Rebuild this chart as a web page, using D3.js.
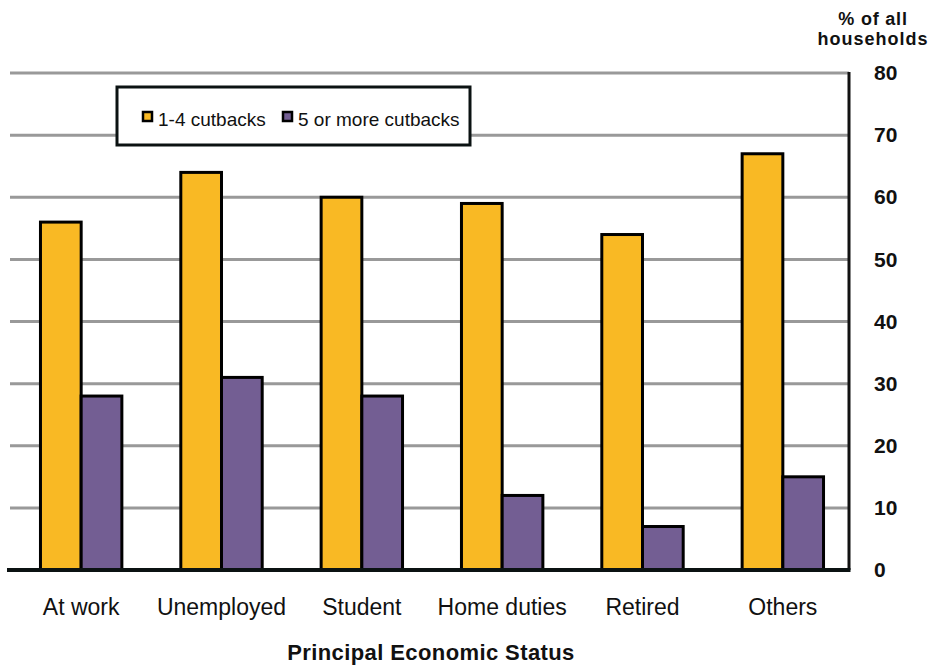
<!DOCTYPE html>
<html>
<head>
<meta charset="utf-8">
<script src="https://cdn.jsdelivr.net/npm/d3@7"></script>
<style>
  body { margin: 0; background: #fff; }
  svg { display: block; font-family: 'Liberation Sans', Arial, sans-serif; }
</style>
</head>
<body>
<svg id="chart" width="934" height="666"></svg>
<script>
// Data
const categories = ['At work', 'Unemployed', 'Student', 'Home duties', 'Retired', 'Others'];
const seriesNames = ['1-4 cutbacks', '5 or more cutbacks'];
const cutbacks1to4 = [56, 64, 60, 59, 54, 67];
const cutbacks5plus = [28, 31, 28, 12, 7, 15];
const yTicks = [0, 10, 20, 30, 40, 50, 60, 70, 80];
const colors = ['#F9B924', '#735E93'];

const svg = d3.select('#chart');
const margin = { top: 73, right: 82, bottom: 96, left: 11 };
const width = 934, height = 666;

// Scales
const x0 = d3.scaleBand()
  .domain(categories)
  .range([margin.left, width - margin.right + 1])
  .paddingInner(0.42)
  .paddingOuter(0.21);

const x1 = d3.scaleBand()
  .domain(seriesNames)
  .range([0, x0.bandwidth()]);

const y = d3.scaleLinear()
  .domain([0, 80])
  .range([height - margin.bottom, margin.top]);

const axisX = width - margin.right - 3;

// Gridlines
svg.append('g')
  .selectAll('line')
  .data(yTicks.filter(d => d > 0))
  .join('line')
  .attr('x1', margin.left - 1)
  .attr('x2', axisX)
  .attr('y1', d => y(d))
  .attr('y2', d => y(d))
  .attr('stroke', '#999')
  .attr('stroke-width', 3);

// Bars
const rows = categories.map((c, i) => ({ cat: c, values: [cutbacks1to4[i], cutbacks5plus[i]] }));

svg.append('g')
  .selectAll('g')
  .data(rows)
  .join('g')
  .attr('transform', d => `translate(${x0(d.cat)},0)`)
  .selectAll('rect')
  .data(d => d.values.map((v, j) => ({ key: seriesNames[j], value: v, j: j })))
  .join('rect')
  .attr('x', d => x1(d.key))
  .attr('width', x1.bandwidth())
  .attr('y', d => y(d.value))
  .attr('height', d => y(0) - y(d.value))
  .attr('fill', d => colors[d.j])
  .attr('stroke', '#000')
  .attr('stroke-width', 3);

// Right axis line and baseline
svg.append('line')
  .attr('x1', axisX).attr('x2', axisX)
  .attr('y1', y(80) - 1).attr('y2', y(0))
  .attr('stroke', '#111').attr('stroke-width', 3);

svg.append('line')
  .attr('x1', 7).attr('x2', axisX + 1.5)
  .attr('y1', y(0)).attr('y2', y(0))
  .attr('stroke', '#0b1212').attr('stroke-width', 4);

// Right axis tick labels
const yAxis = svg.append('g')
  .attr('transform', `translate(${axisX + 25},0)`)
  .call(d3.axisRight(y).tickValues(yTicks).tickSize(0).tickPadding(0));
yAxis.select('.domain').remove();
yAxis.selectAll('text')
  .attr('font-size', 21)
  .attr('font-weight', 'bold')
  .attr('fill', '#111')
  .attr('font-family', "'Liberation Sans', Arial, sans-serif");

// Axis unit label
svg.append('text')
  .attr('x', 873).attr('y', 25)
  .attr('text-anchor', 'middle')
  .attr('font-size', 18).attr('font-weight', 'bold')
  .attr('letter-spacing', 0.8)
  .attr('fill', '#111')
  .text('% of all');
svg.append('text')
  .attr('x', 873).attr('y', 45)
  .attr('text-anchor', 'middle')
  .attr('font-size', 18).attr('font-weight', 'bold')
  .attr('letter-spacing', 1)
  .attr('fill', '#111')
  .text('households');

// Category labels
svg.append('g')
  .selectAll('text')
  .data(categories)
  .join('text')
  .attr('x', d => x0(d) + x0.bandwidth() / 2)
  .attr('y', 615)
  .attr('text-anchor', 'middle')
  .attr('font-size', 23)
  .attr('fill', '#111')
  .text(d => d);

// X axis title
svg.append('text')
  .attr('x', 431).attr('y', 660)
  .attr('text-anchor', 'middle')
  .attr('font-size', 22).attr('font-weight', 'bold')
  .attr('letter-spacing', 0.4)
  .attr('fill', '#111')
  .text('Principal Economic Status');

// Legend
const legend = svg.append('g');
legend.append('rect')
  .attr('x', 117).attr('y', 87)
  .attr('width', 353).attr('height', 58)
  .attr('fill', '#fff')
  .attr('stroke', '#0b1212').attr('stroke-width', 3);

const legendX = [143, 283];
seriesNames.forEach((s, i) => {
  legend.append('rect')
    .attr('x', legendX[i]).attr('y', 112)
    .attr('width', 9).attr('height', 9)
    .attr('fill', colors[i])
    .attr('stroke', '#000').attr('stroke-width', 2.5);
  legend.append('text')
    .attr('x', legendX[i] + 15).attr('y', 126)
    .attr('font-size', 19)
    .attr('fill', '#111')
    .text(s);
});
</script>
</body>
</html>
